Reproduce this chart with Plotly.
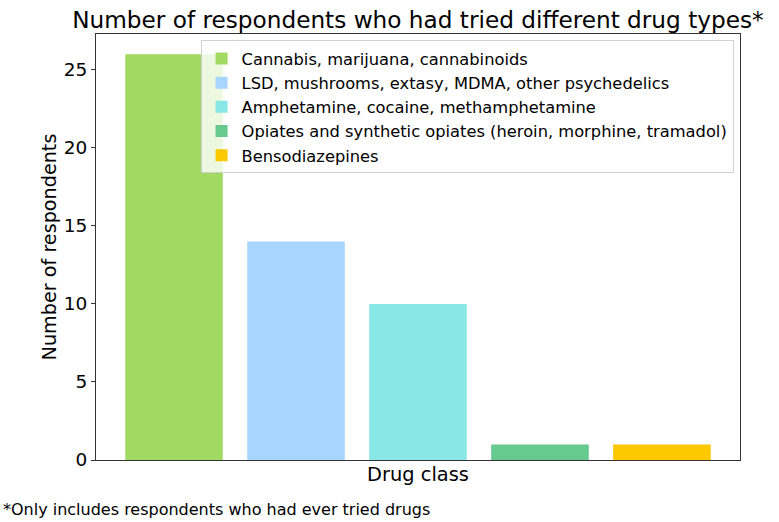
import plotly.graph_objects as go

categories = ["Cannabis, marijuana, cannabinoids",
              "LSD, mushrooms, extasy, MDMA, other psychedelics",
              "Amphetamine, cocaine, methamphetamine",
              "Opiates and synthetic opiates (heroin, morphine, tramadol)",
              "Bensodiazepines"]
values = [26, 14, 10, 1, 1]
colors = ["#a2d962", "#a7d5fd", "#89e7e6", "#66c98e", "#fec800"]
yticks = [0, 5, 10, 15, 20, 25]

FONT = "DejaVu Sans"
fig = go.Figure()
for i, (c, v, col) in enumerate(zip(categories, values, colors)):
    fig.add_trace(go.Bar(x=[i], y=[v], name=c, marker=dict(color=col, line=dict(width=0)),
                         width=0.8))

fig.update_layout(
    width=779, height=522,
    margin=dict(l=96, r=39, t=34, b=62),
    paper_bgcolor="white", plot_bgcolor="white",
    barmode="overlay",
    font=dict(family=FONT, color="black"),
    title=dict(text="Number of respondents who had tried different drug types*",
               x=0.5365, xanchor="center",
               y=0.962, yanchor="middle", font=dict(size=23.2, family=FONT)),
    legend=dict(x=0.99, xanchor="right", y=0.985, yanchor="top",
                bgcolor="rgba(255,255,255,0.8)", bordercolor="#d0d0d0", borderwidth=1,
                font=dict(size=16.3, family=FONT), tracegroupgap=0, itemwidth=30),
    xaxis=dict(range=[-0.64, 4.64], showticklabels=False, ticks="", showgrid=False,
               zeroline=False, showline=True, linecolor="#333", linewidth=1, mirror=True,
               title=dict(text="Drug class", font=dict(size=19.4, family=FONT), standoff=7)),
    yaxis=dict(range=[0, 27.3], tickvals=yticks, ticks="outside", ticklen=4, tickcolor="#333",
               showgrid=False, zeroline=False, showline=True, linecolor="#333", linewidth=1,
               mirror=True, tickfont=dict(size=18.5, family=FONT),
               title=dict(text="Number of respondents", font=dict(size=19.2, family=FONT), standoff=2)),
    annotations=[dict(text="*Only includes respondents who had ever tried drugs", xref="paper",
                      yref="paper", x=-96/644 + 0.002, xanchor="left", y=-50/426, yanchor="middle",
                      showarrow=False, font=dict(size=16.0, family=FONT))],
)
fig.write_html("out.html", config={"displayModeBar": False},
               post_script="document.body.style.margin='0';document.body.style.padding='0';")
